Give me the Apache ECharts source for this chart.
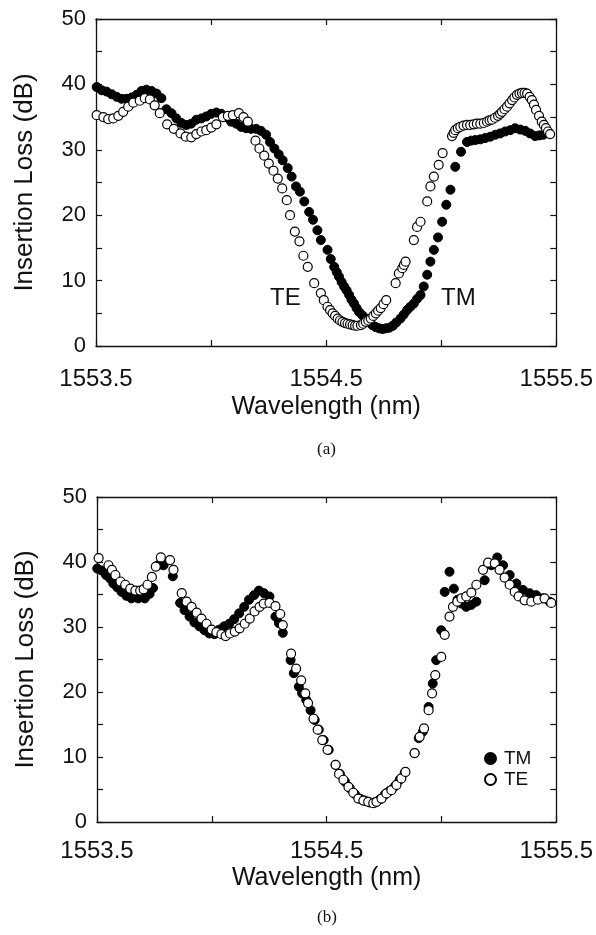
<!DOCTYPE html>
<html>
<head>
<meta charset="utf-8">
<script src="https://cdn.jsdelivr.net/npm/echarts@6/dist/echarts.min.js"></script>
<style>
html,body{margin:0;padding:0;background:#fff;}
#chart{width:596px;height:935px;}
</style>
</head>
<body>
<div id="chart"></div>
<script>
// ---------- data ----------
const xTickLabels = ['1553.5', '1554.5', '1555.5'];
const yTickLabels = [0, 10, 20, 30, 40, 50];

// (a) TM – filled circles
const aTM_wl = [1553.503,1553.525,1553.546,1553.568,1553.590,1553.611,1553.633,1553.655,1553.676,1553.698,1553.719,1553.741,1553.763,1553.784,1553.806,1553.828,1553.849,1553.871,1553.893,1553.914,1553.936,1553.958,1553.979,1554.001,1554.023,1554.044,1554.066,1554.087,1554.109,1554.131,1554.152,1554.174,1554.196,1554.217,1554.239,1554.256,1554.275,1554.294,1554.311,1554.333,1554.350,1554.369,1554.386,1554.405,1554.426,1554.443,1554.462,1554.477,1554.506,1554.520,1554.535,1554.546,1554.556,1554.567,1554.578,1554.589,1554.600,1554.610,1554.621,1554.632,1554.643,1554.657,1554.672,1554.686,1554.700,1554.715,1554.730,1554.745,1554.760,1554.775,1554.790,1554.805,1554.823,1554.837,1554.852,1554.866,1554.881,1554.895,1554.910,1554.924,1554.939,1554.953,1554.968,1554.986,1555.004,1555.022,1555.040,1555.061,1555.086,1555.112,1555.130,1555.148,1555.170,1555.191,1555.213,1555.235,1555.256,1555.278,1555.300,1555.321,1555.343,1555.365,1555.386,1555.408,1555.426,1555.444];
const aTM_loss = [39.6,39.1,38.9,38.5,38.1,37.8,37.8,38.0,38.4,39.0,39.2,39.0,38.6,37.9,36.2,35.6,34.8,34.1,33.8,34.0,34.6,34.8,35.1,35.5,35.7,35.5,35.0,34.3,34.0,33.5,33.3,33.2,33.2,32.9,32.3,31.2,30.2,29.3,28.4,27.2,25.9,24.4,23.6,22.1,20.5,19.3,17.7,16.2,14.7,13.3,12.1,11.3,10.6,9.8,9.1,8.5,7.8,7.1,6.5,5.8,5.2,4.7,4.2,3.7,3.2,2.9,2.7,2.6,2.7,2.8,3.1,3.6,4.2,4.8,5.5,6.0,6.5,7.2,7.8,9.1,10.9,12.9,14.7,16.6,19.0,21.6,23.9,27.4,29.7,31.2,31.4,31.5,31.6,31.8,32.0,32.3,32.5,32.8,33.0,33.3,33.1,32.9,32.5,32.1,32.2,32.3];

// (a) TE – open circles
const aTE_wl = [1553.503,1553.532,1553.553,1553.575,1553.597,1553.618,1553.640,1553.662,1553.690,1553.712,1553.734,1553.755,1553.777,1553.809,1553.838,1553.867,1553.890,1553.914,1553.936,1553.958,1553.979,1554.001,1554.023,1554.051,1554.073,1554.095,1554.121,1554.141,1554.160,1554.193,1554.210,1554.231,1554.251,1554.271,1554.290,1554.309,1554.329,1554.343,1554.364,1554.384,1554.401,1554.420,1554.448,1554.477,1554.490,1554.506,1554.517,1554.528,1554.539,1554.550,1554.560,1554.571,1554.582,1554.593,1554.604,1554.615,1554.626,1554.636,1554.651,1554.661,1554.672,1554.683,1554.694,1554.705,1554.716,1554.726,1554.737,1554.749,1554.761,1554.802,1554.816,1554.831,1554.838,1554.845,1554.881,1554.895,1554.910,1554.939,1554.953,1554.968,1554.989,1555.006,1555.047,1555.054,1555.061,1555.072,1555.083,1555.097,1555.112,1555.126,1555.141,1555.155,1555.170,1555.185,1555.199,1555.210,1555.221,1555.234,1555.247,1555.256,1555.264,1555.275,1555.286,1555.297,1555.308,1555.318,1555.329,1555.340,1555.351,1555.362,1555.373,1555.384,1555.394,1555.403,1555.412,1555.425,1555.437,1555.446,1555.455,1555.464,1555.473];
const aTE_loss = [35.3,35.0,34.7,34.8,35.2,35.8,36.6,37.2,37.5,37.9,37.7,36.8,35.6,33.9,33.2,32.5,32.0,31.9,32.4,32.8,33.0,33.4,33.9,35.0,35.2,35.3,35.6,35.0,34.3,31.4,30.2,29.1,27.9,26.8,25.6,24.1,22.3,20.0,17.5,16.0,13.8,12.1,9.6,8.1,7.0,6.0,5.5,5.0,4.6,4.2,3.9,3.7,3.5,3.4,3.3,3.2,3.1,3.1,3.2,3.4,3.7,3.9,4.2,4.6,5.0,5.4,5.8,6.4,7.0,9.6,11.1,11.9,12.4,12.9,16.2,18.2,19.0,22.1,24.4,25.9,27.7,29.5,32.1,32.6,33.0,33.3,33.5,33.7,33.8,33.8,33.9,34.0,34.0,34.1,34.3,34.5,34.6,34.9,35.2,35.5,35.8,36.2,36.6,37.1,37.6,38.0,38.4,38.6,38.7,38.7,38.6,38.1,37.6,36.9,36.1,35.2,34.3,33.8,33.3,32.8,32.4];

// (b) TM – filled circles
const bTM_wl = [1553.501,1553.520,1553.539,1553.556,1553.571,1553.588,1553.607,1553.628,1553.650,1553.679,1553.708,1553.729,1553.744,1553.766,1553.790,1553.830,1553.862,1553.881,1553.903,1553.924,1553.946,1553.968,1553.989,1554.011,1554.032,1554.054,1554.076,1554.097,1554.119,1554.141,1554.162,1554.184,1554.205,1554.227,1554.251,1554.277,1554.292,1554.309,1554.343,1554.357,1554.379,1554.393,1554.411,1554.430,1554.448,1554.466,1554.487,1554.509,1554.539,1554.558,1554.580,1554.601,1554.623,1554.645,1554.666,1554.688,1554.710,1554.732,1554.753,1554.775,1554.797,1554.818,1554.840,1554.883,1554.901,1554.919,1554.944,1554.962,1554.977,1554.999,1555.014,1555.035,1555.054,1555.070,1555.087,1555.108,1555.130,1555.152,1555.188,1555.217,1555.243,1555.268,1555.297,1555.326,1555.355,1555.384,1555.413,1555.441,1555.470];
const bTM_loss = [39.0,38.7,38.0,37.5,36.7,36.1,35.4,34.8,34.4,34.4,34.4,35.1,36.0,39.5,39.5,37.8,33.7,32.6,31.6,30.7,30.1,29.5,29.0,28.9,29.6,30.1,30.5,31.2,32.1,33.1,34.2,34.9,35.6,35.2,34.7,31.6,30.6,29.1,24.9,22.9,20.8,19.8,18.8,17.2,15.7,14.2,12.6,11.1,8.8,7.4,6.2,5.2,4.3,3.6,3.3,3.0,3.0,3.5,4.2,4.8,5.5,6.5,7.6,10.6,12.9,13.9,17.7,21.3,24.9,29.5,35.4,38.5,35.9,34.2,33.6,33.1,33.4,33.9,37.2,39.5,40.7,39.5,38.0,36.7,35.7,35.2,34.9,34.4,33.9];

// (b) TE – open circles
const bTE_wl = [1553.507,1553.550,1553.565,1553.580,1553.602,1553.623,1553.645,1553.667,1553.688,1553.703,1553.720,1553.739,1553.756,1553.778,1553.818,1553.833,1553.869,1553.890,1553.912,1553.934,1553.955,1553.977,1553.999,1554.020,1554.042,1554.060,1554.079,1554.100,1554.121,1554.143,1554.165,1554.186,1554.208,1554.226,1554.251,1554.277,1554.298,1554.309,1554.345,1554.367,1554.389,1554.407,1554.419,1554.443,1554.461,1554.481,1554.504,1554.539,1554.554,1554.573,1554.595,1554.616,1554.638,1554.660,1554.681,1554.703,1554.717,1554.739,1554.760,1554.782,1554.804,1554.825,1554.843,1554.883,1554.905,1554.924,1554.944,1554.959,1554.973,1554.999,1555.014,1555.035,1555.050,1555.069,1555.087,1555.108,1555.130,1555.152,1555.181,1555.203,1555.232,1555.253,1555.275,1555.297,1555.319,1555.336,1555.362,1555.391,1555.420,1555.449,1555.478];
const bTE_loss = [40.6,39.5,38.8,38.0,37.0,36.5,35.9,35.6,35.6,35.8,36.5,37.7,39.3,40.7,40.3,38.8,35.2,33.9,33.1,32.2,31.3,30.5,29.6,29.2,28.9,28.6,29.0,29.3,29.8,30.5,31.3,32.4,33.1,33.6,33.7,33.2,32.0,30.3,25.9,23.6,21.8,19.8,18.3,15.9,14.2,12.6,11.1,8.8,7.4,6.5,5.4,4.5,3.6,3.3,3.1,2.9,3.1,3.6,4.4,4.9,5.7,6.7,7.7,10.6,13.1,14.4,17.2,19.8,22.6,25.4,28.8,31.6,33.1,33.9,34.4,34.7,35.3,36.5,38.8,39.9,39.8,38.8,37.6,36.5,35.4,34.7,34.1,33.9,34.2,34.4,33.7];

// ---------- chart ----------
const pairs = (xs, ys) => xs.map((x, i) => [x, ys[i]]);
const FONT = 'Liberation Sans, Arial, Helvetica, sans-serif';
const BLACK = '#111';

const grids = [
  {left: 96, top: 19, width: 462, height: 327},
  {left: 97, top: 497, width: 462, height: 325}
];

function xAxes(gi, labelMargin, nameGap) {
  const base = {
    gridIndex: gi, type: 'value', min: 1553.5, max: 1555.5, interval: 0.5,
    axisLine: {show: true, onZero: false, lineStyle: {color: BLACK, width: 1.3}},
    axisTick: {show: true, inside: true, length: 6, lineStyle: {color: BLACK, width: 1.2}},
    splitLine: {show: false}
  };
  return [
    Object.assign({}, base, {
      position: 'bottom',
      axisLabel: {
        show: true, margin: labelMargin, fontSize: 24, color: BLACK, fontFamily: FONT,
        showMinLabel: true, showMaxLabel: true,
        formatter: v => { const s = v.toFixed(1); return xTickLabels.includes(s) ? s : ''; }
      },
      name: 'Wavelength (nm)', nameLocation: 'middle', nameGap: nameGap,
      nameTextStyle: {fontSize: 25, color: BLACK, fontFamily: FONT}
    }),
    Object.assign({}, base, {position: 'top', axisLabel: {show: false}})
  ];
}
function yAxes(gi) {
  const base = {
    gridIndex: gi, type: 'value', min: 0, max: 50, interval: 10,
    axisLine: {show: true, onZero: false, lineStyle: {color: BLACK, width: 1.3}},
    axisTick: {show: true, inside: true, length: 6, lineStyle: {color: BLACK, width: 1.2}},
    minorTick: {show: true, splitNumber: 2, length: 6, lineStyle: {color: BLACK, width: 1.2}},
    splitLine: {show: false}
  };
  return [
    Object.assign({}, base, {
      position: 'left',
      axisLabel: {
        show: true, margin: 10, fontSize: 22, color: BLACK, fontFamily: FONT,
        showMinLabel: true, showMaxLabel: true,
        formatter: v => yTickLabels.includes(Math.round(v)) ? String(Math.round(v)) : ''
      },
      name: 'Insertion Loss (dB)', nameLocation: 'middle', nameGap: 58, nameRotate: 90,
      nameTextStyle: {fontSize: 26, color: BLACK, fontFamily: FONT}
    }),
    Object.assign({}, base, {position: 'right', axisLabel: {show: false}})
  ];
}

const filled = {color: '#000', borderColor: '#000', borderWidth: 1, opacity: 1};
const open = {color: '#fff', borderColor: '#000', borderWidth: 1.2, opacity: 1};

function sc(name, xi, yi, data, style) {
  return {
    name: name, type: 'scatter', xAxisIndex: xi, yAxisIndex: yi,
    data: data, symbol: 'circle', symbolSize: 9, itemStyle: style,
    silent: true, emphasis: {disabled: true}
  };
}

const chart = echarts.init(document.getElementById('chart'), null, {renderer: 'canvas'});
chart.setOption({
  animation: false,
  backgroundColor: '#fff',
  grid: grids,
  xAxis: xAxes(0, 21, 49).concat(xAxes(1, 17, 44)),
  yAxis: yAxes(0).concat(yAxes(1)),
  legend: {
    show: true, orient: 'vertical', left: 479, top: 744,
    data: ['TM', 'TE'], icon: 'circle', itemWidth: 11, itemHeight: 11, itemGap: 2,
    textStyle: {fontSize: 19, color: BLACK, fontFamily: FONT, padding: [0, 0, 0, 3]},
    selectedMode: false
  },
  series: [
    sc('TM (a)', 0, 0, pairs(aTM_wl, aTM_loss), filled),
    sc('TE (a)', 0, 0, pairs(aTE_wl, aTE_loss), open),
    sc('TM', 2, 2, pairs(bTM_wl, bTM_loss), filled),
    sc('TE', 2, 2, pairs(bTE_wl, bTE_loss), open)
  ],
  graphic: [
    {type: 'text', left: 270, top: 286, style: {text: 'TE', fontSize: 24, fill: BLACK, fontFamily: FONT}},
    {type: 'text', left: 441, top: 286, style: {text: 'TM', fontSize: 24, fill: BLACK, fontFamily: FONT}},
    {type: 'text', left: 317, top: 441, style: {text: '(a)', fontSize: 17, fill: BLACK, fontFamily: 'Liberation Serif, Times New Roman, serif'}},
    {type: 'text', left: 317, top: 909, style: {text: '(b)', fontSize: 17, fill: BLACK, fontFamily: 'Liberation Serif, Times New Roman, serif'}}
  ]
});
</script>
</body>
</html>
